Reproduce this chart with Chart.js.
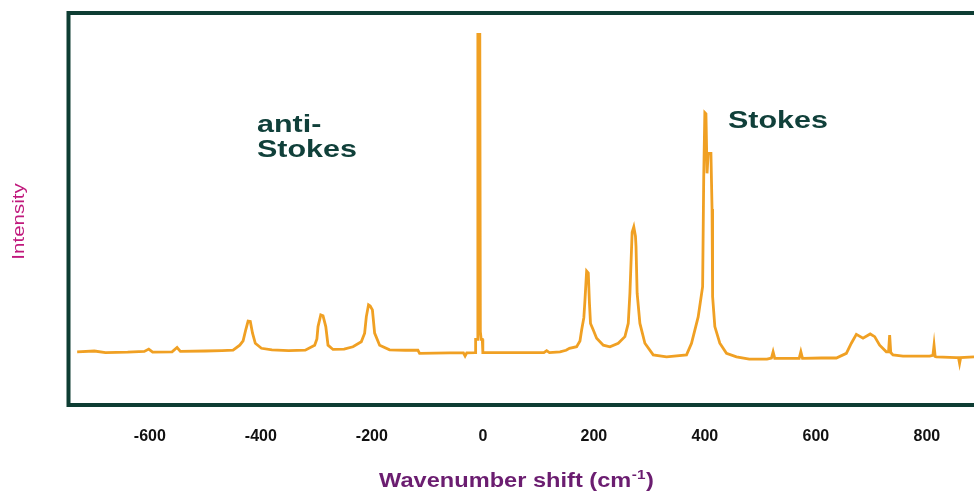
<!DOCTYPE html>
<html>
<head>
<meta charset="utf-8">
<script src="https://cdn.jsdelivr.net/npm/chart.js@4/dist/chart.umd.min.js"></script>
<style>
  html, body { margin: 0; padding: 0; background: #fff; overflow: hidden; }
  #wrap { width: 974px; height: 493px; }
</style>
</head>
<body>
<div id="wrap"><canvas id="raman"></canvas></div>
<script>
// Raman spectrum (shift in cm-1, intensity in arbitrary units 0-100)
const shifts = [
  -731, -700, -680, -640, -610, -602, -595, -560, -551, -545, -500, -470, -450,
  -438, -432, -427, -423, -419, -415, -410, -399, -380, -350, -320,
  -303, -299, -297, -292, -288, -283, -279, -270, -250,
  -234, -219, -213, -210, -206, -203, -199, -195, -186, -168, -140, -117, -114,
  -60, -35, -32, -29, -14, -13, -10, -9, -5.5, -4.5, -3, -1, 0,
  60, 110, 115, 120, 139, 150, 156, 169, 175, 178, 182, 184, 187, 190, 192, 194,
  199, 205, 217, 229, 244, 256, 262, 265, 269, 272, 275, 276, 278, 283, 292,
  307, 331, 367, 376, 388, 396, 398, 400, 402, 404, 406, 411, 413, 414, 418,
  427, 439, 457, 480, 512, 520, 523, 526, 570, 573, 576, 610, 637, 655, 664,
  673, 685, 698, 706, 715, 727, 731, 733, 735, 739, 757, 805, 811, 813, 815,
  817, 853, 857, 859, 861, 885
];
const intensity = [
  13.2, 13.4, 13.0, 13.1, 13.3, 13.9, 13.1, 13.2, 14.3, 13.3, 13.4, 13.5, 13.6,
  14.9, 16.0, 19.0, 21.1, 21.0, 18.0, 15.4, 14.1, 13.7, 13.5, 13.6,
  14.9, 16.5, 19.7, 22.7, 22.5, 19.7, 14.9, 13.8, 13.9,
  14.5, 15.8, 18.0, 22.2, 25.3, 25.0, 24.0, 18.0, 14.9, 13.7, 13.6, 13.6, 12.8,
  12.9, 12.9, 12.1, 12.9, 13.0, 16.4, 16.4, 95.0, 95.0, 18.4, 16.4, 16.4, 13.0,
  13.0, 13.0, 13.5, 13.0, 13.2, 13.6, 14.1, 14.5, 16.0, 18.8, 22.0, 26.5, 34.0, 33.5, 26.0, 20.5,
  18.8, 16.7, 14.9, 14.5, 15.4, 17.1, 20.5, 28.3, 44.0, 45.4, 43.0, 40.3, 28.3, 20.5, 15.4,
  12.4, 11.9, 12.4, 15.4, 22.2, 30.0, 58.3, 74.8, 74.5, 59.2, 64.3, 64.3, 50.0, 27.4, 19.7,
  15.4, 12.8, 11.9, 11.3, 11.3, 11.6, 13.2, 11.5, 11.5, 13.2, 11.5, 11.6, 11.6, 12.8, 15.4,
  17.7, 16.7, 17.8, 17.1, 14.9, 13.2, 13.2, 17.5, 13.0, 12.4, 12.1, 12.1, 12.3, 14.9, 12.0,
  11.9, 11.7, 11.7, 10.2, 11.7, 11.9
];
const xTicks = [-600, -400, -200, 0, 200, 400, 600, 800];
const xTitle = 'Wavenumber shift (cm';
const yTitle = 'Intensity';
const notes = [
  { lines: ['anti-', 'Stokes'], x: 257, y: 131.7 },
  { lines: ['Stokes'], x: 728, y: 128.3 }
];

const FONT = '"Liberation Sans", Arial, sans-serif';

function stretchedText(ctx, text, x, y, font, color, sx) {
  ctx.save();
  ctx.font = font;
  ctx.fillStyle = color;
  ctx.translate(x, y);
  ctx.scale(sx, 1);
  ctx.fillText(text, 0, 0);
  ctx.restore();
}

const decor = {
  id: 'decor',
  afterDraw(chart) {
    const { ctx, chartArea: a, scales } = chart;
    ctx.save();

    // frame: left, top, bottom (right side runs off the picture)
    ctx.strokeStyle = '#0e3d33';
    ctx.lineWidth = 4;
    ctx.beginPath();
    ctx.moveTo(990, a.top - 2);
    ctx.lineTo(a.left - 2, a.top - 2);
    ctx.lineTo(a.left - 2, a.bottom + 2);
    ctx.lineTo(990, a.bottom + 2);
    ctx.stroke();

    // tick labels
    ctx.font = 'bold 16px ' + FONT;
    ctx.fillStyle = '#111';
    ctx.textAlign = 'center';
    ctx.textBaseline = 'middle';
    xTicks.forEach(v => {
      ctx.fillText(String(v), scales.x.getPixelForValue(v), 436.5);
    });

    // x title with superscript
    ctx.textAlign = 'left';
    ctx.textBaseline = 'alphabetic';
    const sx = 1.18;
    const mainFont = 'bold 20px ' + FONT;
    const supFont = 'bold 13px ' + FONT;
    ctx.font = mainFont;
    const w1 = ctx.measureText(xTitle).width;
    const w3 = ctx.measureText(')').width;
    ctx.font = supFont;
    const w2 = ctx.measureText('-1').width + 1;
    const total = (w1 + w2 + w3) * sx;
    let x0 = 516.5 - total / 2;
    const base = 486.5;
    stretchedText(ctx, xTitle, x0, base, mainFont, '#6b1d70', sx);
    stretchedText(ctx, '-1', x0 + (w1 + 0.5) * sx, base - 8, supFont, '#6b1d70', sx);
    stretchedText(ctx, ')', x0 + (w1 + w2) * sx, base, mainFont, '#6b1d70', sx);

    // y title
    ctx.save();
    ctx.translate(24, 221.5);
    ctx.rotate(-Math.PI / 2);
    ctx.scale(1.28, 1);
    ctx.font = '16px ' + FONT;
    ctx.fillStyle = '#c0187c';
    ctx.textAlign = 'center';
    ctx.fillText(yTitle, 0, 0);
    ctx.restore();

    // annotations
    notes.forEach(n => {
      n.lines.forEach((t, i) => {
        stretchedText(ctx, t, n.x, n.y + i * 25, 'bold 24px ' + FONT, '#10403a', 1.27);
      });
    });

    ctx.restore();
  }
};

new Chart(document.getElementById('raman'), {
  type: 'line',
  data: {
    datasets: [{
      data: shifts.map((s, i) => ({ x: s, y: intensity[i] })),
      borderColor: '#f0a023',
      borderWidth: 2.8,
      pointRadius: 0,
      tension: 0,
      fill: false
    }]
  },
  options: {
    responsive: true,
    maintainAspectRatio: false,
    animation: false,
    layout: { padding: { left: 70.5, right: 0, top: 15, bottom: 90 } },
    scales: {
      x: { type: 'linear', min: -743, max: 885, display: false },
      y: { min: 0, max: 100, display: false }
    },
    plugins: {
      legend: { display: false },
      tooltip: { enabled: false }
    }
  },
  plugins: [decor]
});
</script>
</body>
</html>
